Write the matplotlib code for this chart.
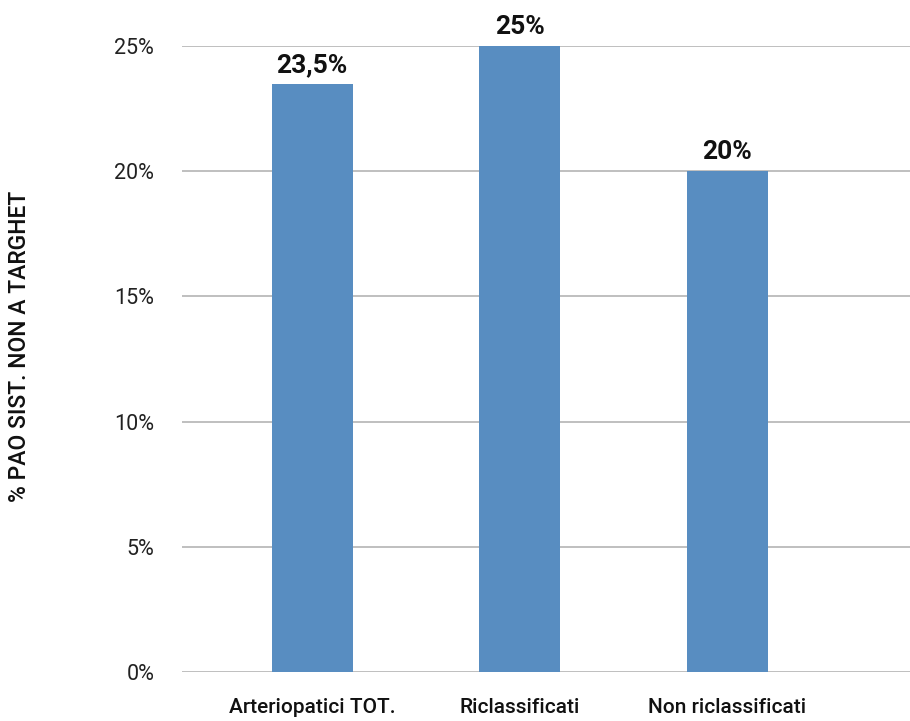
import matplotlib.pyplot as plt

categories = ["Arteriopatici TOT.", "Riclassificati", "Non riclassificati"]
values = [23.5, 25, 20]
value_labels = ["23,5%", "25%", "20%"]
y_ticks = [0, 5, 10, 15, 20, 25]
y_tick_labels = ["0%", "5%", "10%", "15%", "20%", "25%"]

plt.rcParams["font.family"] = ["Roboto", "DejaVu Sans"]

fig = plt.figure(figsize=(9.1, 7.21), dpi=100)
ax = fig.add_axes([0.2, 0.068, 0.8, 0.868])

x = range(len(categories))
ax.bar(x, values, width=0.39, color="#588DC1", zorder=2)

for xi, v, lab in zip(x, values, value_labels):
    ax.annotate(lab, (xi, v), xytext=(0, 5), textcoords="offset points",
                ha="center", va="bottom", fontsize=19, fontweight="bold",
                color="#111111")

ax.set_xlim(-0.627, 2.88)
ax.set_ylim(0, 25)
ax.set_yticks(y_ticks)
ax.set_yticklabels(y_tick_labels, fontsize=15.5, color="#222222")
ax.set_xticks(list(x))
ax.set_xticklabels(categories, fontsize=15, color="#111111",
                   fontweight="medium")
ax.tick_params(axis="y", length=0, pad=20)
ax.tick_params(axis="x", length=0, pad=19)
ax.grid(axis="y", color="#BFBFBF", linewidth=1.4, zorder=0)
ax.set_axisbelow(True)
for s in ax.spines.values():
    s.set_visible(False)

ax.set_ylabel("% PAO SIST. NON A TARGHET", fontsize=16.5, color="#111111",
              fontweight="medium")
ax.yaxis.set_label_coords(-0.208, 0.52)

fig.savefig("out.png", dpi=100)
